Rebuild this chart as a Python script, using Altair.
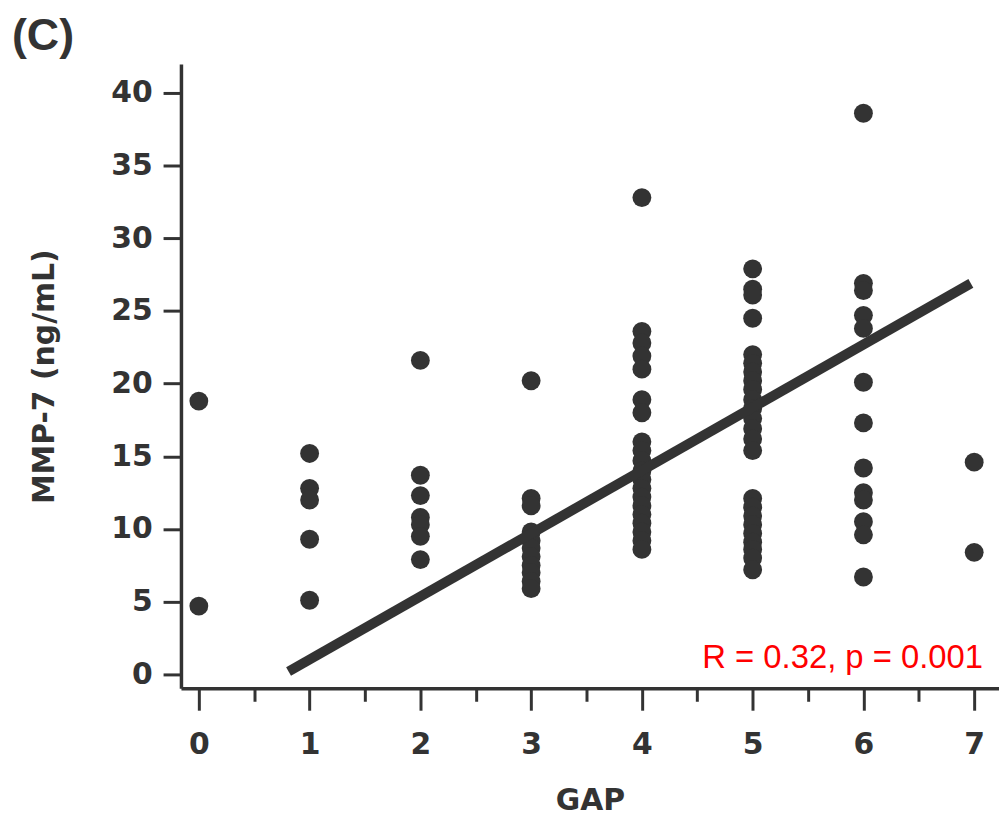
import altair as alt
import pandas as pd

# ---- data ----
mmp7_gap0 = [18.8, 4.7]
mmp7_gap1 = [15.2, 12.8, 12.0, 9.3, 5.1]
mmp7_gap2 = [21.6, 13.7, 12.3, 10.8, 10.3, 9.5, 7.9]
mmp7_gap3 = [20.2, 12.1, 11.6, 9.8, 9.2, 8.7, 8.1, 7.5, 7.0, 6.4, 5.9]
mmp7_gap4 = [32.8, 23.6, 22.8, 21.9, 21.0, 18.9, 18.0, 16.0, 15.4, 14.7, 14.0,
             13.4, 12.8, 12.2, 11.6, 11.0, 10.4, 9.8, 9.2, 8.6]
mmp7_gap5 = [27.9, 26.5, 26.1, 24.5, 22.0, 21.4, 20.8, 20.2, 19.6, 18.9, 18.3,
             17.6, 16.9, 16.2, 15.4, 12.1, 11.5, 10.9, 10.3, 9.7, 9.1, 8.6, 8.0, 7.2]
mmp7_gap6 = [38.6, 26.9, 26.4, 24.7, 23.8, 20.1, 17.3, 14.2, 12.5, 12.0, 10.5, 9.6, 6.7]
mmp7_gap7 = [14.6, 8.4]

fit_gap = [0.81, 6.97]
fit_mmp7 = [0.2, 26.9]

x_major_ticks = [0, 1, 2, 3, 4, 5, 6, 7]
x_minor_ticks = [0.5, 1.5, 2.5, 3.5, 4.5, 5.5, 6.5]
y_ticks = [0, 5, 10, 15, 20, 25, 30, 35, 40]

annotation_text = ["R = 0.32, p = 0.001"]
annotation_gap = [7.08]
annotation_mmp7 = [0.45]

panel_label = "(C)"
x_title = "GAP"
y_title = "MMP-7 (ng/mL)"

# ---- tables ----
groups = [mmp7_gap0, mmp7_gap1, mmp7_gap2, mmp7_gap3,
          mmp7_gap4, mmp7_gap5, mmp7_gap6, mmp7_gap7]
rows = []
for g, vals in zip(x_major_ticks, groups):
    for v in vals:
        rows.append({"gap": g, "mmp7": v})
pts_df = pd.DataFrame(rows)
fit_df = pd.DataFrame({"gap": fit_gap, "mmp7": fit_mmp7})
ann_df = pd.DataFrame({"gap": annotation_gap, "mmp7": annotation_mmp7, "label": annotation_text})
minor_df = pd.DataFrame({"gap": x_minor_ticks})

INK = "#333333"
FONT = "DejaVu Sans"

xscale = alt.Scale(domain=[-0.1615, 7.224], nice=False, zero=False)
yscale = alt.Scale(domain=[-0.957, 41.98], nice=False, zero=False)

x_axis = alt.Axis(
    values=x_major_ticks, orient="bottom", title=x_title, format="d",
    domainColor=INK, domainWidth=3.5, tickColor=INK, tickWidth=3, tickSize=22,
    labelFont=FONT, labelFontWeight="bold", labelFontSize=30, labelColor=INK,
    labelPadding=20, labelFlush=False, labelOverlap=False, grid=False,
    titleFont=FONT, titleFontWeight="bold", titleFontSize=30, titleColor=INK,
    titleY=113, titleBaseline="middle",
)
y_axis = alt.Axis(
    values=y_ticks, orient="left", title=y_title, format="d",
    domainColor=INK, domainWidth=3.5, tickColor=INK, tickWidth=3, tickSize=18,
    labelFont=FONT, labelFontWeight="bold", labelFontSize=30, labelColor=INK,
    labelPadding=11, labelFlush=False, labelOverlap=False, grid=False,
    titleFont=FONT, titleFontWeight="bold", titleFontSize=30, titleColor=INK,
    titleX=-137, titleY=314, titleAngle=270, titleAlign="center", titleBaseline="middle",
)
minor_axis = alt.Axis(
    values=x_minor_ticks, orient="bottom", title=None, labels=False, domain=False,
    tickColor=INK, tickWidth=3, tickSize=13, grid=False,
)

points = alt.Chart(pts_df).mark_circle(size=360, color=INK, opacity=1).encode(
    x=alt.X("gap:Q", scale=xscale, axis=x_axis),
    y=alt.Y("mmp7:Q", scale=yscale, axis=y_axis),
)

fit = alt.Chart(fit_df).mark_line(color=INK, strokeWidth=10, strokeCap="butt").encode(
    x=alt.X("gap:Q", scale=xscale, axis=None),
    y=alt.Y("mmp7:Q", scale=yscale),
)

minor = alt.Chart(minor_df).mark_point(opacity=0).encode(
    x=alt.X("gap:Q", scale=xscale, axis=minor_axis),
)

ann = alt.Chart(ann_df).mark_text(
    align="right", baseline="alphabetic", font="Liberation Sans",
    fontSize=33, color="#ff0000",
).encode(
    x=alt.X("gap:Q", scale=xscale, axis=None),
    y=alt.Y("mmp7:Q", scale=yscale),
    text="label:N",
)

chart = alt.layer(points, fit, minor, ann).resolve_axis(x="independent").properties(
    width=823,
    height=628,
    autosize=alt.AutoSizeParams(type="none"),
    padding={"left": 174, "top": 54, "right": 0, "bottom": 131},
    background="white",
    title=alt.TitleParams(
        text=panel_label, anchor="start", frame="group", orient="top",
        font="Liberation Sans", fontWeight="bold", fontSize=45, color=INK,
        dx=-170, offset=5,
    ),
).configure_view(strokeWidth=0)

chart.save("out.html", embed_options={"renderer": "svg", "actions": False})
